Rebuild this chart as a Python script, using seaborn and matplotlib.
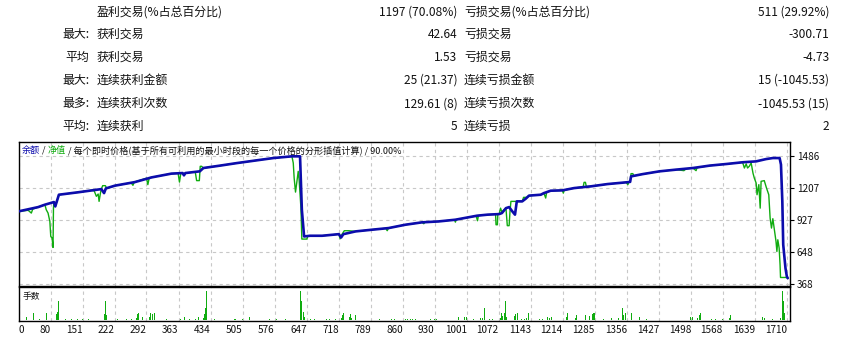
import matplotlib
matplotlib.use("Agg")
import matplotlib.pyplot as plt
import seaborn as sns
import pandas as pd

# ---------------- table data ----------------
row_prefix = ["", "最大:", "平均", "最大:", "最多:", "平均:"]
left_labels = ["盈利交易(%占总百分比)", "获利交易", "获利交易", "连续获利金额", "连续获利次数", "连续获利"]
left_values = ["1197 (70.08%)", "42.64", "1.53", "25 (21.37)", "129.61 (8)", "5"]
right_labels = ["亏损交易(%占总百分比)", "亏损交易", "亏损交易", "连续亏损金额", "连续亏损次数", "连续亏损"]
right_values = ["511 (29.92%)", "-300.71", "-4.73", "15 (-1045.53)", "-1045.53 (15)", "2"]

# ---------------- chart data ----------------
legend_balance = "余额"
legend_equity = "净值"
legend_rest = " / 每个即时价格(基于所有可利用的最小时段的每一个价格的分形插值计算) / 90.00%"
lots_title = "手数"

y_ticks = [368, 648, 927, 1207, 1486]
x_tick_labels = ["0", "80", "151", "222", "292", "363", "434", "505", "576", "647", "718",
                 "789", "860", "930", "1001", "1072", "1143", "1214", "1285", "1356", "1427",
                 "1498", "1568", "1639", "1710"]

balance_points = [
    (9, 1006), (52, 1043), (67, 1064), (87, 1087), (90, 1049), (98, 1151), (140, 1172),
    (192, 1200), (198, 1165), (202, 1206), (222, 1230), (266, 1261), (303, 1302),
    (347, 1335), (372, 1340), (375, 1320), (378, 1340), (410, 1355), (418, 1384),
    (455, 1405), (492, 1427), (536, 1451), (573, 1471), (614, 1486), (632, 1486),
    (636, 1020), (641, 787), (654, 793), (681, 793), (718, 807), (723, 778), (728, 807),
    (755, 831), (792, 846), (828, 860), (865, 889), (902, 910), (939, 918), (976, 933),
    (1024, 968), (1047, 977), (1073, 982), (1079, 991), (1088, 1034), (1095, 1043),
    (1102, 1006), (1108, 977), (1112, 1093), (1124, 1093), (1132, 1117), (1139, 1143),
    (1165, 1151), (1172, 1165), (1187, 1186), (1213, 1189), (1239, 1209), (1276, 1224),
    (1313, 1244), (1354, 1259), (1363, 1263), (1365, 1311), (1391, 1331), (1428, 1355),
    (1465, 1370), (1502, 1384), (1539, 1405), (1576, 1419), (1612, 1434), (1642, 1442),
    (1664, 1462), (1679, 1471), (1694, 1471), (1697, 1414), (1700, 1093), (1702, 715),
    (1707, 510), (1710, 438), (1712, 423),
]

equity_points = [
    (9, 1006), (30, 1015), (37, 991), (40, 1025), (52, 1043), (67, 1064), (70, 1020),
    (74, 991), (78, 918), (80, 787), (83, 772), (85, 691), (86, 1034), (87, 1087),
    (90, 1049), (98, 1151), (140, 1172), (170, 1190), (176, 1186), (181, 1137),
    (185, 1157), (187, 1093), (190, 1165), (192, 1200), (195, 1230), (201, 1230),
    (204, 1206), (222, 1230), (258, 1255), (262, 1233), (265, 1261), (292, 1295),
    (295, 1239), (298, 1298), (303, 1302), (347, 1335), (362, 1338), (365, 1261),
    (368, 1338), (372, 1340), (375, 1320), (378, 1340), (400, 1350), (403, 1274),
    (409, 1274), (411, 1399), (414, 1399), (418, 1384), (455, 1405), (492, 1427),
    (536, 1451), (573, 1471), (614, 1486), (617, 1428), (619, 1296), (622, 1174),
    (625, 1268), (628, 1355), (630, 1282), (634, 1034), (636, 764), (647, 764),
    (649, 787), (654, 793), (681, 793), (718, 807), (721, 767), (724, 800), (730, 837),
    (740, 837), (755, 831), (792, 846), (822, 858), (825, 837), (828, 860), (865, 889),
    (902, 910), (906, 898), (909, 912), (939, 918), (974, 932), (976, 912), (978, 933),
    (1022, 966), (1025, 924), (1027, 969), (1047, 977), (1065, 980), (1066, 889),
    (1069, 889), (1070, 982), (1073, 982), (1076, 1034), (1079, 1000), (1088, 1034),
    (1091, 881), (1095, 881), (1097, 1006), (1099, 1093), (1110, 1093), (1112, 1093),
    (1124, 1093), (1127, 1128), (1135, 1128), (1139, 1143), (1165, 1151), (1172, 1165),
    (1176, 1122), (1178, 1170), (1187, 1186), (1213, 1189), (1215, 1165), (1217, 1190),
    (1239, 1209), (1259, 1220), (1261, 1259), (1264, 1259), (1266, 1222), (1276, 1224),
    (1313, 1244), (1354, 1259), (1358, 1239), (1360, 1261), (1363, 1263), (1365, 1335),
    (1369, 1335), (1371, 1315), (1391, 1331), (1428, 1355), (1465, 1370), (1482, 1361),
    (1487, 1377), (1502, 1384), (1509, 1361), (1511, 1386), (1539, 1405), (1576, 1419),
    (1612, 1434), (1616, 1384), (1620, 1420), (1623, 1384), (1627, 1400), (1631, 1428),
    (1635, 1340), (1638, 1296), (1642, 1253), (1644, 1151), (1648, 1239), (1651, 1034),
    (1653, 1268), (1660, 1274), (1665, 1209), (1670, 1151), (1673, 947), (1676, 860),
    (1679, 942), (1683, 831), (1686, 744), (1688, 656), (1690, 758), (1693, 685),
    (1695, 540), (1696, 429), (1709, 429), (1712, 423),
]

lots_points = [
    (27, 0.3), (41, 0.7), (54, 0.1), (70, 0.7), (93, 0.6), (95, 0.8), (98, 1.9), (113, 0.1),
    (126, 0.1), (139, 0.1), (151, 0.1), (163, 0.1), (198, 0.2), (200, 0.6), (202, 1.9),
    (204, 0.5), (227, 0.1), (247, 0.1), (258, 0.1), (270, 0.2), (273, 0.6), (275, 0.7),
    (283, 0.3), (298, 0.3), (301, 0.7), (306, 0.6), (309, 0.7), (337, 0.1), (368, 0.1),
    (376, 0.3), (388, 0.1), (400, 0.1), (407, 0.3), (418, 0.2), (420, 0.6), (422, 1.2),
    (425, 2.9), (442, 0.1), (487, 0.1), (490, 0.1), (504, 0.1), (520, 0.3), (564, 0.1),
    (580, 0.1), (600, 0.1), (634, 2.9), (636, 1.9), (639, 0.8), (641, 0.3), (656, 0.1),
    (665, 0.1), (690, 0.1), (698, 0.1), (711, 0.1), (724, 0.2), (727, 0.5), (729, 0.7),
    (741, 0.3), (744, 0.6), (747, 0.2), (754, 0.5), (808, 0.1), (835, 0.1), (842, 0.1),
    (865, 0.1), (870, 0.1), (876, 0.1), (882, 0.1), (887, 0.1), (922, 0.1), (930, 0.1),
    (935, 0.1), (982, 0.3), (997, 0.3), (1000, 0.3), (1017, 0.1), (1031, 0.2), (1036, 0.2),
    (1040, 1.2), (1051, 0.1), (1059, 0.1), (1075, 0.2), (1078, 0.7), (1081, 0.4),
    (1084, 0.7), (1087, 1.9), (1090, 0.3), (1108, 0.4), (1110, 0.6), (1113, 0.7),
    (1123, 0.1), (1128, 0.1), (1133, 0.2), (1137, 0.7), (1139, 0.3), (1163, 0.1),
    (1170, 0.1), (1181, 0.3), (1184, 0.2), (1189, 0.3), (1221, 0.3), (1224, 0.7),
    (1241, 0.2), (1245, 0.5), (1265, 0.5), (1274, 0.4), (1279, 0.6), (1281, 0.7),
    (1284, 0.7), (1305, 0.1), (1321, 0.2), (1338, 0.2), (1345, 0.4), (1347, 1.2),
    (1349, 0.5), (1353, 0.7), (1365, 0.7), (1383, 0.3), (1400, 0.1), (1496, 0.3),
    (1501, 0.3), (1512, 0.2), (1516, 0.5), (1519, 0.7), (1544, 0.1), (1553, 0.1),
    (1567, 0.1), (1583, 0.2), (1586, 0.5), (1656, 0.3), (1660, 0.2), (1678, 0.1),
    (1697, 0.2), (1700, 2.9), (1702, 1.9), (1705, 0.7),
]

# ---------------- style ----------------
sns.set_style("white")
plt.rcParams["font.family"] = ["Noto Sans CJK SC", "DejaVu Sans"]

BLUE = "#0c0cac"
GREEN = "#10ac10"
TXT = "#111111"
GRID = "#c8c8c8"

W, H = 848, 341
fig = plt.figure(figsize=(W / 100, H / 100), dpi=100)
fig.patch.set_facecolor("white")

# ---------------- table ----------------
row_y = [12.3, 34.6, 57.6, 80.5, 103.6, 126.6]
TFS = 8.6
for i, yy in enumerate(row_y):
    fy = 1 - yy / H
    if row_prefix[i]:
        fig.text(89.5 / W, fy, row_prefix[i], ha="right", va="center", fontsize=TFS, color=TXT)
    fig.text(96.5 / W, fy, left_labels[i], ha="left", va="center", fontsize=TFS, color=TXT)
    fig.text(457.5 / W, fy, left_values[i], ha="right", va="center", fontsize=TFS, color=TXT)
    fig.text(464 / W, fy, right_labels[i], ha="left", va="center", fontsize=TFS, color=TXT)
    fig.text(829.5 / W, fy, right_values[i], ha="right", va="center", fontsize=TFS, color=TXT)

# ---------------- axes ----------------
X0, X1 = 18.7, 790.0
M_TOP, M_BOT = 142.0, 285.5
S_TOP, S_BOT = 287.3, 320.7
ax = fig.add_axes([X0 / W, 1 - M_BOT / H, (X1 - X0) / W, (M_BOT - M_TOP) / H])
ax2 = fig.add_axes([X0 / W, 1 - S_BOT / H, (X1 - X0) / W, (S_BOT - S_TOP) / H])

x_min, x_max = 9, 1717
tick_pos = [x_min] + [int(s) for s in x_tick_labels[1:]]

bal = pd.DataFrame(balance_points, columns=["trade", "value"])
eq = pd.DataFrame(equity_points, columns=["trade", "value"])
lots = pd.DataFrame(lots_points, columns=["trade", "lots"])

sns.lineplot(data=eq, x="trade", y="value", ax=ax, color=GREEN, linewidth=1.0,
             estimator=None, sort=False, zorder=3)
sns.lineplot(data=bal, x="trade", y="value", ax=ax, color=BLUE, linewidth=1.9,
             estimator=None, sort=False, zorder=4)

ax.set_xlim(x_min, x_max)
ax.set_ylim(359, 1611)
ax.set_xticks(tick_pos)
ax.set_yticks(y_ticks)
ax.set_yticklabels([str(v) for v in y_ticks])
ax.yaxis.tick_right()
ax.tick_params(axis="y", right=True, left=False, length=3, width=0.8, color="black",
               labelsize=7.2, pad=2, labelcolor=TXT)
ax.tick_params(axis="x", length=0, labelbottom=False)
ax.grid(True, color=GRID, linestyle=(0, (3, 3)), linewidth=0.8)
ax.set_xlabel("")
ax.set_ylabel("")
for s in ax.spines.values():
    s.set_visible(True)
    s.set_color("black")
    s.set_linewidth(1.0)

# legend-like title made of coloured pieces
LFS = 6.55
t = ax.text((22 - X0) / (X1 - X0), (M_BOT - 155.0) / (M_BOT - M_TOP), legend_balance,
            transform=ax.transAxes, color=BLUE, fontsize=LFS, ha="left", va="bottom", zorder=6)
t = ax.annotate(" / ", xy=(1, 0), xycoords=t, color=TXT, fontsize=LFS, ha="left", va="bottom",
                zorder=6)
t = ax.annotate(legend_equity, xy=(1, 0), xycoords=t, color=GREEN, fontsize=LFS, ha="left",
                va="bottom", zorder=6)
t = ax.annotate(legend_rest, xy=(1, 0), xycoords=t, color=TXT, fontsize=LFS, ha="left",
                va="bottom", zorder=6)

# lots panel
ax2.bar(lots["trade"], lots["lots"], width=2.2, color=GREEN, linewidth=0, zorder=3)
ax2.set_xlim(x_min, x_max)
ax2.set_ylim(-0.1, 3.24)
ax2.set_xticks(tick_pos)
ax2.set_xticklabels(x_tick_labels)
for i, lab in enumerate(ax2.get_xticklabels()):
    lab.set_ha("left" if i == 0 else "right")
ax2.set_yticks([])
ax2.tick_params(axis="x", length=2, width=0.8, color="#b0b0b0", labelsize=7.2, pad=0.8,
                labelcolor=TXT)
ax2.grid(True, axis="x", color=GRID, linestyle=(0, (3, 3)), linewidth=0.8)
ax2.set_xlabel("")
ax2.set_ylabel("")
for s in ax2.spines.values():
    s.set_visible(True)
    s.set_color("black")
    s.set_linewidth(1.0)
ax2.text((22.5 - X0) / (X1 - X0), (S_BOT - 296.5) / (S_BOT - S_TOP), lots_title,
         transform=ax2.transAxes, fontsize=6.3, color=TXT, ha="left", va="center")

fig.savefig("out.png", dpi=100, facecolor="white")
